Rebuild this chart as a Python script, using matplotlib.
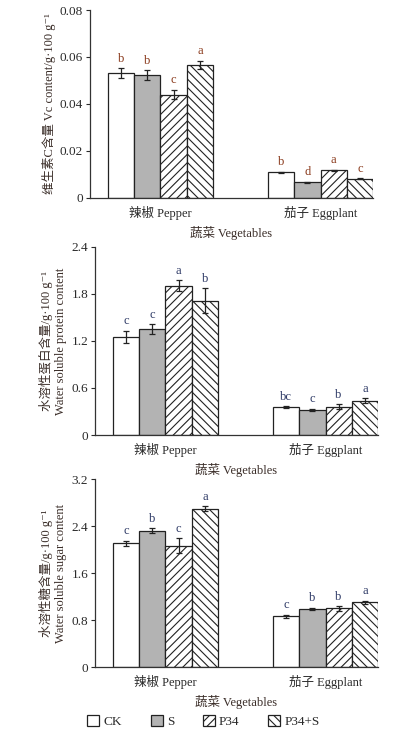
import matplotlib
matplotlib.use("Agg")
import matplotlib.pyplot as plt
import numpy as np
from matplotlib.patches import Patch

plt.rcParams['font.family'] = ['Liberation Serif', 'Noto Sans CJK SC', 'DejaVu Sans']
plt.rcParams['hatch.linewidth'] = 0.8

groups = ['辣椒 Pepper', '茄子 Eggplant']
treatments = ['CK', 'S', 'P34', 'P34+S']

vc_mean = [[0.0531, 0.0522, 0.0440, 0.0566], [0.0109, 0.0067, 0.0118, 0.0081]]
vc_err = [[0.0022, 0.0022, 0.0020, 0.0018], [0.0002, 0.0003, 0.0003, 0.0002]]
vc_sig = [['b', 'b', 'c', 'a'], ['b', 'd', 'a', 'c']]

pro_mean = [[1.253, 1.347, 1.903, 1.712], [0.353, 0.319, 0.361, 0.438]]
pro_err = [[0.077, 0.064, 0.072, 0.155], [0.015, 0.018, 0.030, 0.028]]
pro_sig = [['c', 'c', 'a', 'b'], ['bc', 'c', 'b', 'a']]

sug_mean = [[2.107, 2.322, 2.067, 2.696], [0.861, 0.985, 0.997, 1.104]]
sug_err = [[0.045, 0.040, 0.127, 0.045], [0.025, 0.020, 0.040, 0.025]]
sug_sig = [['c', 'b', 'c', 'a'], ['c', 'b', 'b', 'a']]

yticks1 = [0, 0.02, 0.04, 0.06, 0.08]
yticks2 = [0, 0.6, 1.2, 1.8, 2.4]
yticks3 = [0, 0.8, 1.6, 2.4, 3.2]
ytl1 = ['0', '0.02', '0.04', '0.06', '0.08']
ytl2 = ['0', '0.6', '1.2', '1.8', '2.4']
ytl3 = ['0', '0.8', '1.6', '2.4', '3.2']

fills = ['white', '#b3b3b3', 'white', 'white']
hatches = [None, None, '////', '\\\\\\\\']
edge = '#222222'
tick_col = '#2a2a2a'
lab_col = '#3a2d28'

fig = plt.figure(figsize=(3.99, 7.30), dpi=100)

w = 0.164
x = np.arange(len(groups))

def panel(rect, means, errs, sigs, yt, ytl, ylabel, sigcol):
    ax = fig.add_axes(rect)
    for j in range(4):
        xs = x + (j - 1.5) * w
        m = [means[g][j] for g in range(2)]
        e = [errs[g][j] for g in range(2)]
        ax.bar(xs, m, width=w, color=fills[j], edgecolor=edge, linewidth=0.9,
               hatch=hatches[j], zorder=2)
        ax.errorbar(xs, m, yerr=e, fmt='none', ecolor='#222222', elinewidth=0.9,
                    capsize=2.2, capthick=0.9, zorder=3)
        for g in range(2):
            ax.annotate(sigs[g][j], (xs[g], m[g] + e[g]), xytext=(0, 2.5),
                        textcoords='offset points', ha='center', va='bottom',
                        fontsize=9, color=sigcol)
    ax.set_xlim(-0.44, 1 + 2 * w)
    ax.set_ylim(yt[0], yt[-1])
    ax.set_yticks(yt)
    ax.set_yticklabels(ytl)
    ax.set_xticks(x)
    ax.set_xticklabels(groups)
    ax.tick_params(axis='x', length=0, pad=6, labelsize=9, colors=tick_col)
    ax.tick_params(axis='y', length=3, width=0.8, pad=2, labelsize=9.5, colors=tick_col, direction='out')
    for s in ['top', 'right']:
        ax.spines[s].set_visible(False)
    for s in ['left', 'bottom']:
        ax.spines[s].set_color('#333333')
        ax.spines[s].set_linewidth(0.9)
    ax.set_xlabel('蔬菜 Vegetables', fontsize=9, color=lab_col, labelpad=4)
    ax.set_ylabel(ylabel, fontsize=9, color=lab_col, labelpad=3, linespacing=1.2)
    return ax

panel([0.2256, 0.7288, 0.7093, 0.2575], vc_mean, vc_err, vc_sig, yticks1, ytl1,
      '维生素C含量 Vc content/g·100 g⁻¹', '#8a3a1c')
panel([0.2381, 0.4041, 0.7093, 0.2580], pro_mean, pro_err, pro_sig, yticks2, ytl2,
      '水溶性蛋白含量/g·100 g⁻¹\nWater soluble protein content', '#2e3a66')
panel([0.2381, 0.0863, 0.7093, 0.2575], sug_mean, sug_err, sug_sig, yticks3, ytl3,
      '水溶性糖含量/g·100 g⁻¹\nWater soluble sugar content', '#2e3a66')

handles = [Patch(facecolor=fills[j], edgecolor=edge, hatch=hatches[j], linewidth=0.9)
           for j in range(4)]
fig.legend(handles, treatments, loc='center', bbox_to_anchor=(0.51, 0.011), ncol=4,
           frameon=False, fontsize=9.5, handlelength=0.9, handleheight=0.9,
           handletextpad=0.3, columnspacing=2.2, labelcolor=tick_col)

fig.savefig('out.png', dpi=100)
